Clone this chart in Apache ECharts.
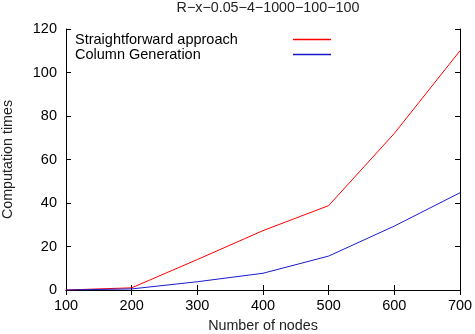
<!DOCTYPE html>
<html><head><meta charset="utf-8">
<script src="https://cdn.jsdelivr.net/npm/echarts@6/dist/echarts.min.js"></script>
<style>html,body{margin:0;padding:0;background:#fff}#c{width:475px;height:334px}</style>
</head><body><div id="c"></div>
<script>
const nodes = [100, 200, 300, 400, 500, 600, 700];
const straightforward = [0, 1, 14, 27.3, 38.8, 72, 110];
const columnGeneration = [0, 0.5, 3.8, 7.7, 15.6, 29.4, 44.7];
const titleText = 'R\u2212x\u22120.05\u22124\u22121000\u2212100\u2212100';
const seriesNames = ['Straightforward approach', 'Column Generation'];

const font = 'Liberation Sans, Arial, sans-serif';
const chart = echarts.init(document.getElementById('c'));
const axisLine = {show: true, lineStyle: {color: '#000', width: 1}};
const tick = {show: true, inside: true, length: 5, lineStyle: {color: '#000'}};
chart.setOption({
  animation: false,
  title: {text: titleText, left: 263, textAlign: 'center', top: -4,
    textStyle: {fontFamily: font, fontSize: 14.3, fontWeight: 'normal', color: '#222'}},
  legend: {orient: 'vertical', left: 70, top: 27, align: 'right', itemGap: 0,
    itemWidth: 38, itemHeight: 1.5, icon: 'rect',
    formatter: '{a|{name}}',
    textStyle: {fontFamily: font, fontSize: 14.5, color: '#000', lineHeight: 14,
      rich: {a: {fontFamily: font, fontSize: 14.5, color: '#000', width: 213, align: 'left', lineHeight: 14}}},
    data: seriesNames},
  grid: {left: 66, right: 15, top: 29, bottom: 44, containLabel: false, outerBoundsMode: 'none'},
  xAxis: [{type: 'value', min: 100, max: 700, interval: 100,
    name: 'Number of nodes', nameLocation: 'middle', nameGap: 29,
    nameTextStyle: {fontFamily: font, fontSize: 14.3, color: '#222'},
    axisLine, axisTick: tick,
    axisLabel: {fontFamily: font, fontSize: 14.5, color: '#000', margin: 8},
    splitLine: {show: false}},
   {type: 'value', position: 'top', min: 100, max: 700, interval: 100,
    axisLine, axisTick: tick, axisLabel: {show: false}, splitLine: {show: false}}],
  yAxis: [{type: 'value', min: 0, max: 120, interval: 20,
    name: 'Computation times', nameLocation: 'middle', nameGap: 51,
    nameTextStyle: {fontFamily: font, fontSize: 14.3, color: '#222'},
    axisLine, axisTick: tick,
    axisLabel: {fontFamily: font, fontSize: 14.5, color: '#000', margin: 9},
    splitLine: {show: false}},
   {type: 'value', position: 'right', min: 0, max: 120, interval: 20,
    axisLine, axisTick: tick, axisLabel: {show: false}, splitLine: {show: false}}],
  series: [
    {name: seriesNames[0], type: 'line', data: nodes.map((n, i) => [n, straightforward[i]]),
     showSymbol: false, lineStyle: {color: '#ff0000', width: 1}, itemStyle: {color: '#ff0000'}},
    {name: seriesNames[1], type: 'line', data: nodes.map((n, i) => [n, columnGeneration[i]]),
     showSymbol: false, lineStyle: {color: '#1a1acc', width: 1}, itemStyle: {color: '#1a1acc'}}
  ]
});
</script></body></html>
